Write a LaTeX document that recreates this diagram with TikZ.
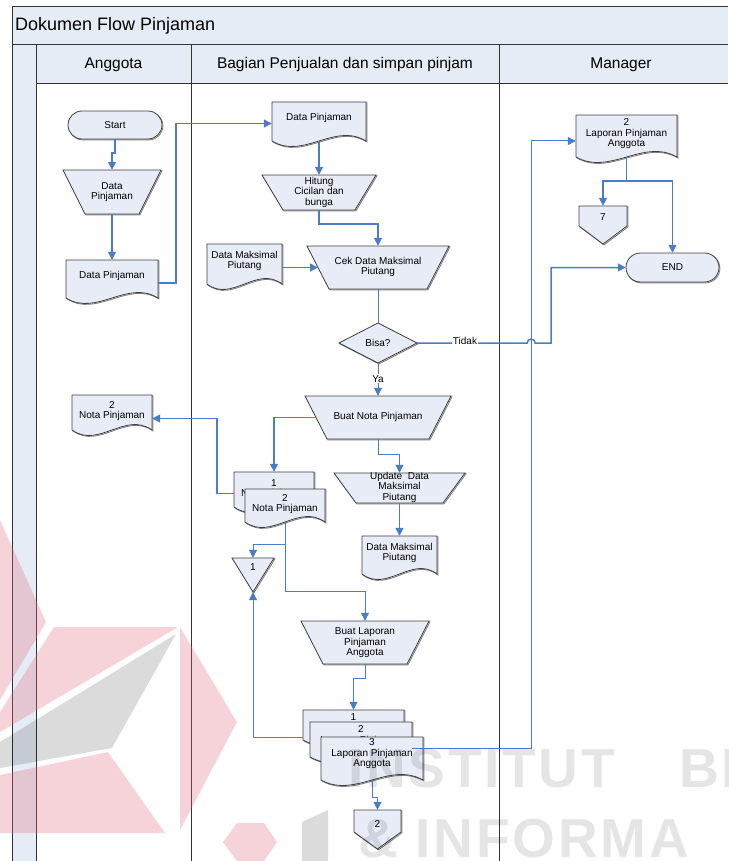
\documentclass[tikz,border=0pt]{standalone}
\usepackage{fontspec}
\setmainfont{Liberation Sans}
\newfontfamily\wmfont[LetterSpace=5]{Liberation Sans}
\usetikzlibrary{arrows.meta,calc}

\definecolor{shapefill}{RGB}{231,236,247}
\definecolor{lanefill}{RGB}{230,236,246}
\definecolor{flowblue}{RGB}{74,125,201}
\definecolor{wmpink}{RGB}{225,110,128}

\tikzset{
  lane/.style={draw=black!80, line width=1pt},
  shp/.style={fill=shapefill, draw=black!75, line width=0.8pt, line join=miter,
    preaction={draw=black!50, line width=0.9pt, transform canvas={shift={(0.9pt,-0.9pt)}}}},
  txt/.style={inner sep=0pt, align=center, font=\fontsize{10}{10.5}\selectfont},
  lbl/.style={fill=white, inner sep=1pt, font=\fontsize{10}{10.5}\selectfont},
  head/.style={inner sep=0pt, font=\fontsize{15.5}{18}\selectfont},
  flow/.style={draw=flowblue, line width=1.5pt, -{Triangle[length=8pt,width=8pt]}},
  flowthin/.style={draw=flowblue, line width=1pt, -{Triangle[length=8pt,width=8pt]}},
  wmtext/.style={anchor=base west, inner sep=0pt, text=black, opacity=0.1,
    font=\wmfont\bfseries\fontsize{55}{60}\selectfont},
}

% invisible box carrying the anchors of a symbol
\newcommand\placebox[5]{\node[inner sep=0pt, minimum width={#4-#2}, minimum height={#5-#3}]
  (#1) at ({(#2+#4)/2},{(#3+#5)/2}) {};}
% document symbol: name, x1, y1, x2, y2 (y2 = ends of the wavy bottom)
\newcommand\docshape[5]{%
  \path[shp] (#2,#3) -- (#4,#3) -- (#4,#5)
    .. controls ({#4-(#4-#2)/3},{#5-19}) and ({#2+(#4-#2)/3},{#5+19}) .. (#2,#5) -- cycle;
  \placebox{#1}{#2}{#3}{#4}{#5}}
% manual operation: name, x1, y1, x2, y2, inset of the bottom corners
\newcommand\trapshape[6]{%
  \path[shp] (#2,#3) -- (#4,#3) -- ({#4-#6},#5) -- ({#2+#6},#5) -- cycle;
  \placebox{#1}{#2}{#3}{#4}{#5}
  \coordinate (#1-l) at ({#2+#6/2},{(#3+#5)/2});
  \coordinate (#1-r) at ({#4-#6/2},{(#3+#5)/2});}
% terminator: name, x1, y1, x2, y2, corner radius
\newcommand\termshape[6]{%
  \path[shp, rounded corners=#6pt] (#2,#3) rectangle (#4,#5);
  \placebox{#1}{#2}{#3}{#4}{#5}}
% decision: name, cx, cy, half width, half height
\newcommand\diashape[5]{%
  \path[shp] ({#2-#4},#3) -- (#2,{#3-#5}) -- ({#2+#4},#3) -- (#2,{#3+#5}) -- cycle;
  \node[inner sep=0pt, minimum width={2*#4}, minimum height={2*#5}] (#1) at (#2,#3) {};}
% off-page connector: name, x1, y1, x2, y of the side ends, y of the tip
\newcommand\offshape[6]{%
  \path[shp] (#2,#3) -- (#4,#3) -- (#4,#5) -- ({(#2+#4)/2},#6) -- (#2,#5) -- cycle;
  \placebox{#1}{#2}{#3}{#4}{#6}}
% on-page connector (triangle): name, x1, y1, x2, y of the tip
\newcommand\trishape[5]{%
  \path[shp] (#2,#3) -- (#4,#3) -- ({(#2+#4)/2},#5) -- cycle;
  \placebox{#1}{#2}{#3}{#4}{#5}}

\begin{document}
\begin{tikzpicture}[x=1pt, y=-1pt]
\useasboundingbox (0,0) rectangle (728,861);

% ---------- swimlane frame ----------
\fill[lanefill] (12,7) rectangle (728,45);
\fill[lanefill] (12,45) rectangle (36,861);
\fill[lanefill] (36,45) rectangle (728,84);
\draw[lane] (728,7) -- (12,7) -- (12,861);
\draw[lane] (12,45) -- (728,45);
\draw[lane] (36,45) -- (36,861);
\draw[lane] (36,84) -- (728,84);
\draw[lane] (191,45) -- (191,861);
\draw[lane] (499,45) -- (499,861);
\node[anchor=west, inner sep=0pt, font=\fontsize{18}{20}\selectfont] (title) at (15,26) {Dokumen Flow Pinjaman};
\node[head] (hA) at (113.5,64.5) {Anggota};
\node[head] (hB) at (345,64.5) {Bagian Penjualan dan simpan pinjam};
\node[head] (hC) at (621,64.5) {Manager};

% ---------- Anggota ----------
\termshape{start}{68}{111}{162}{139}{14}
\node[txt] (start-t) at (115,125) {Start};
\trapshape{dpin1}{63}{170}{161}{214}{22}
\node[txt] (dpin1-t) at (112,192) {Data\\Pinjaman};
\docshape{dpin2}{66}{260}{158}{298}
\node[txt] (dpin2-t) at (112,276) {Data Pinjaman};
\docshape{nota3}{72}{395}{152}{430}
\node[txt] (nota3-t) at (112,411) {2\\Nota Pinjaman};

% ---------- Bagian Penjualan dan simpan pinjam ----------
\docshape{dpin3}{272}{102}{366}{141}
\node[txt] (dpin3-t) at (319,118) {Data Pinjaman};
\trapshape{hitung}{262}{175}{376}{210}{21}
\node[txt] (hitung-t) at (319,192) {Hitung\\Cicilan dan\\bunga};
\docshape{dmp1}{207}{244}{282}{284}
\node[txt] (dmp1-t) at (244.5,261) {Data Maksimal\\Piutang};
\trapshape{cek}{307}{246}{449}{289}{22}
\node[txt] (cek-t) at (378,267) {Cek Data Maksimal\\Piutang};
\diashape{bisa}{378}{343}{39}{20}
\node[txt] (bisa-t) at (378,343) {Bisa?};
\trapshape{nota}{305}{396}{451}{439}{22}
\node[txt] (nota-t) at (378,417) {Buat Nota Pinjaman};
\docshape{nota1}{234}{472}{314}{507}
\node[txt] (nota1-t) at (274,489) {1\\Nota Pinjaman};
\docshape{nota2}{245}{489}{325}{522}
\node[txt] (nota2-t) at (285,504) {2\\Nota Pinjaman};
\trapshape{upd}{334}{473}{465}{503}{22}
\node[txt] (upd-t) at (399.5,487) {Update\ \ Data\\Maksimal\\Piutang};
\docshape{dmp2}{362}{536}{437}{574}
\node[txt] (dmp2-t) at (399.5,553) {Data Maksimal\\Piutang};
\trishape{off1}{232}{558}{274}{592}
\node[txt] (off1-t) at (253,567) {1};
\trapshape{lap}{301}{621}{429}{664}{22}
\node[txt] (lap-t) at (365,643) {Buat Laporan\\Pinjaman\\Anggota};
\docshape{lap1}{303}{710}{404}{740}
\node[txt] (lap1-t) at (353.5,729) {1\\Laporan Pinjaman\\Anggota};
\docshape{lap2}{310}{722}{412}{757}
\node[txt] (lap2-t) at (361,741) {2\\Laporan Pinjaman\\Anggota};
\docshape{lap3}{321}{737}{423}{780}
\node[txt] (lap3-t) at (372,754) {3\\Laporan Pinjaman\\Anggota};
\offshape{off2}{354}{810}{401}{832}{849}
\node[txt] (off2-t) at (377.5,824) {2};

% ---------- Manager ----------
\docshape{lapm}{576}{115}{677}{157}
\node[txt] (lapm-t) at (626.5,134) {2\\Laporan Pinjaman\\Anggota};
\offshape{off7}{579}{206}{627}{226}{244}
\node[txt] (off7-t) at (603,217) {7};
\termshape{end}{626}{253}{719}{282}{14.5}
\node[txt] (end-t) at (672.5,267.5) {END};

% ---------- connectors ----------
\draw[flow] (start.south) -- ++(0,14) -| (dpin1.north);
\draw[flow] (dpin1.south) -- (dpin2.north);
\draw[flow] ([yshift=-4pt]dpin2.east) -- ++(18,0) |- ([yshift=-2pt]dpin3.west);
\draw[flow] (dpin3.south) -- (hitung.north);
\draw[flow] (hitung.south) -- ++(0,14) -| (cek.north);
\draw[flow] (dmp1.east |- cek-l) -- (cek-l);
\draw[flowthin, -] (cek.south) -- (bisa.north);
\draw[flowthin] (bisa.south) -- node[lbl, pos=0.48] (ya) {Ya} (nota.north);
\draw[flow] (bisa.east) -- ++(110,0) arc[start angle=180, end angle=0, radius=4pt]
  -- ++(16,0) |- (end.west);
\node[lbl] (tidak) at (465,341) {Tidak};
\draw[flow] (nota-l) -| (nota1.north);
\draw[flowthin] (nota.south) -- ++(0,15) -| (upd.north);
\draw[flow] (upd.south) -- (dmp2.north);
\draw[flow] ([yshift=-4pt]nota1.west) -- ++(-17,0) |- ([yshift=-6pt]nota3.east);
\draw[flowthin, -] (nota2.south) -- ++(0,22) coordinate (nsplit);
\draw[flowthin] (nsplit) -| (off1.north);
\draw[flowthin] (nsplit) -- ++(0,47) -| (lap.north);
\draw[flowthin] (lap.south) -- ++(0,14) -| (lap1.north);
\draw[flowthin] ([yshift=-12pt]lap1.west) -| (off1.south);
\draw[flowthin] ([xshift=-11pt,yshift=10pt]lap3.east) -- ++(119,0) |- ([yshift=-5pt]lapm.west);
\draw[flowthin] (lap3.south) -- ++(0,17) -| (off2.north);
\draw[flow, -] (lapm.south) -- ++(0,24) coordinate (msplit);
\draw[flow] (msplit) -| (off7.north);
\draw[flow] (msplit) -| (end.north);

% ---------- faint logo and lettering in the background ----------
\begin{scope}[opacity=0.3]
  \fill[wmpink] (0,520) -- (46,622) -- (0,700) -- cycle;
  \fill[wmpink] (54,627) -- (178,627) -- (0,732) -- (0,712) -- cycle;
  \fill[wmpink] (180,627) -- (237,722) -- (180,830) -- cycle;
  \fill[wmpink] (0,775) -- (108,752) -- (165,833) -- (0,833) -- cycle;
  \fill[wmpink] (237,823) -- (264,823) -- (277,842) -- (264,861) -- (237,861) -- (223,842) -- cycle;
\end{scope}
\begin{scope}[opacity=0.14]
  \fill[black] (0,742) -- (176,634) -- (112,748) -- (0,768) -- cycle;
  \fill[black] (302,822) -- (328,810) -- (328,861) -- (302,861) -- cycle;
\end{scope}
\node[wmtext] (wm1) at (348,787) {INSTITUT};
\node[wmtext] (wm2) at (679,787) {BI};
\node[wmtext] (wm3) at (358,857) {\& INFORMA};
\end{tikzpicture}
\end{document}
